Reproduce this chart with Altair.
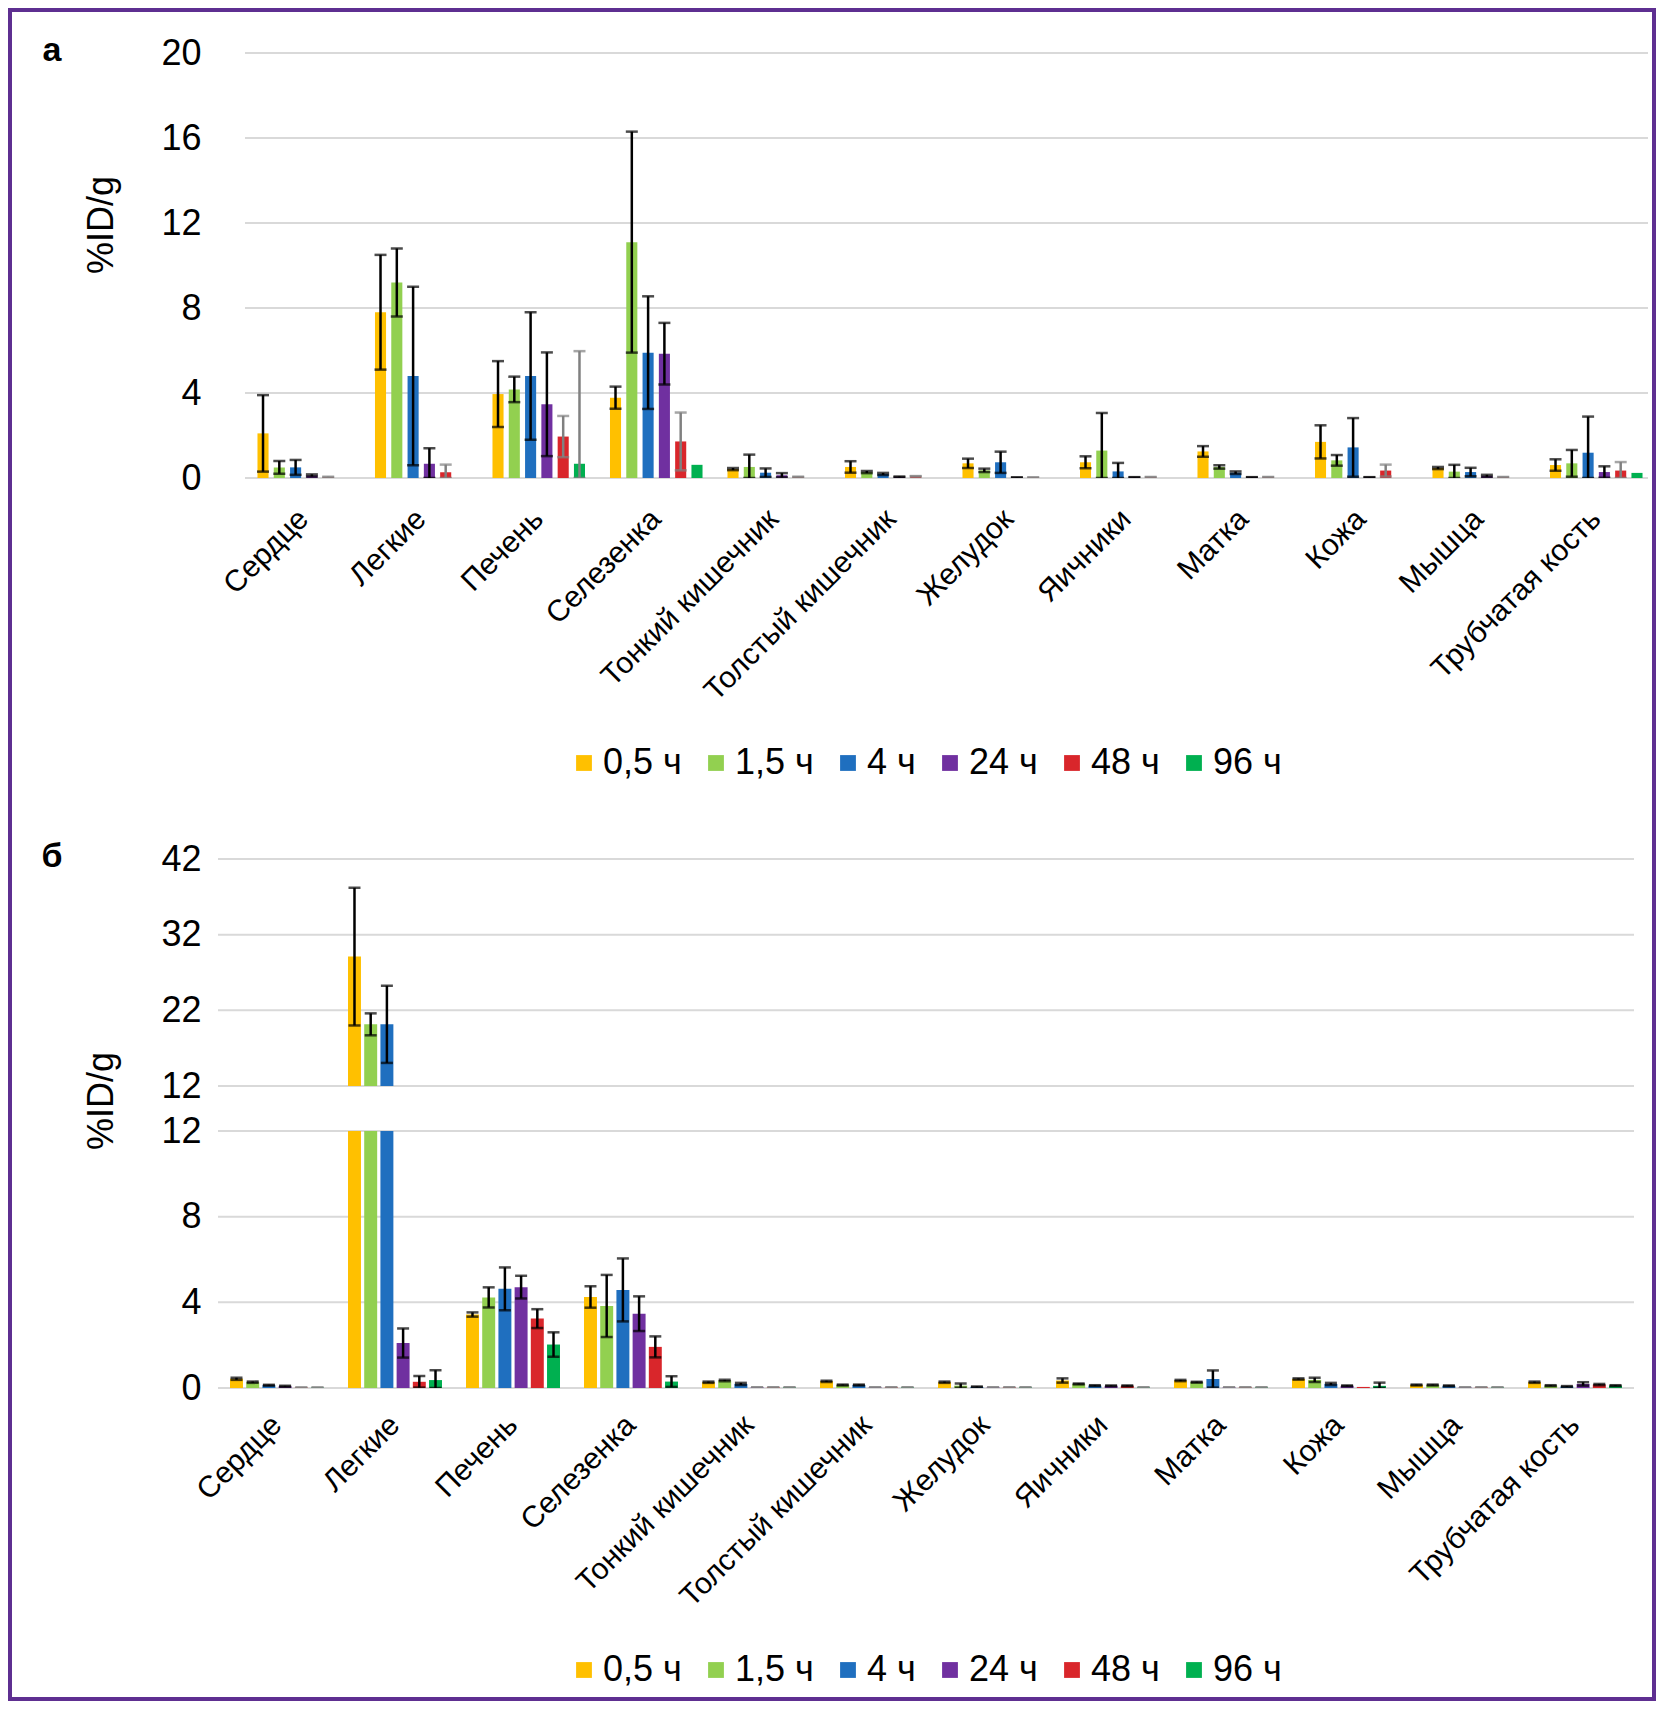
import altair as alt
import pandas as pd

FONT = "Liberation Sans"

organs = ["Сердце", "Легкие", "Печень", "Селезенка", "Тонкий кишечник",
          "Толстый кишечник", "Желудок", "Яичники", "Матка", "Кожа",
          "Мышца", "Трубчатая кость"]
times = ["0,5 ч", "1,5 ч", "4 ч", "24 ч", "48 ч", "96 ч"]
colors = ["#FFC000", "#92D050", "#1F6FBF", "#7030A0", "#D9262B", "#00B050"]

# ---- panel а : mean %ID/g and SD ----
a_05 = [2.1, 7.8, 3.95, 3.78, 0.42, 0.52, 0.69, 0.74, 1.25, 1.7, 0.47, 0.61]
a_05_sd = [1.8, 2.7, 1.55, 0.52, 0.05, 0.27, 0.22, 0.28, 0.25, 0.78, 0.05, 0.27]
a_15 = [0.5, 9.2, 4.17, 11.1, 0.52, 0.28, 0.36, 1.29, 0.52, 0.83, 0.3, 0.69]
a_15_sd = [0.3, 1.6, 0.6, 5.2, 0.58, 0.05, 0.08, 1.77, 0.08, 0.25, 0.32, 0.63]
a_4 = [0.5, 4.8, 4.8, 5.9, 0.25, 0.19, 0.74, 0.31, 0.25, 1.44, 0.28, 1.19]
a_4_sd = [0.35, 4.2, 3.0, 2.65, 0.2, 0.05, 0.5, 0.4, 0.06, 1.38, 0.2, 1.7]
a_24 = [0.12, 0.67, 3.47, 5.85, 0.13, 0.05, 0.02, 0.03, 0.03, 0.03, 0.1, 0.28]
a_24_sd = [0.05, 0.73, 2.44, 1.45, 0.1, 0.02, 0.01, 0.01, 0.01, 0.01, 0.05, 0.27]
a_48 = [0.04, 0.27, 1.95, 1.72, 0.05, 0.08, 0.02, 0.04, 0.04, 0.35, 0.04, 0.35]
a_48_sd = [0.02, 0.36, 0.97, 1.36, 0.01, 0.01, 0.01, 0.01, 0.01, 0.28, 0.01, 0.4]
a_96 = [0.0, 0.0, 0.67, 0.62, 0.0, 0.0, 0.0, 0.0, 0.0, 0.0, 0.0, 0.24]
a_96_sd = [0.0, 0.0, 5.3, 0.0, 0.0, 0.0, 0.0, 0.0, 0.0, 0.0, 0.0, 0.0]

# ---- panel б ----
b_05 = [0.43, 29.1, 3.43, 4.25, 0.27, 0.31, 0.27, 0.35, 0.35, 0.42, 0.14, 0.27]
b_05_sd = [0.05, 9.1, 0.1, 0.5, 0.03, 0.03, 0.03, 0.1, 0.03, 0.03, 0.02, 0.03]
b_15 = [0.27, 20.15, 4.23, 3.83, 0.35, 0.14, 0.11, 0.19, 0.27, 0.38, 0.14, 0.11]
b_15_sd = [0.03, 1.45, 0.47, 1.45, 0.03, 0.02, 0.1, 0.02, 0.02, 0.1, 0.02, 0.02]
b_4 = [0.13, 20.15, 4.63, 4.58, 0.19, 0.14, 0.05, 0.11, 0.42, 0.19, 0.1, 0.07]
b_4_sd = [0.02, 5.1, 1.0, 1.47, 0.05, 0.02, 0.02, 0.02, 0.4, 0.05, 0.02, 0.02]
b_24 = [0.08, 2.1, 4.71, 3.47, 0.03, 0.03, 0.03, 0.1, 0.03, 0.1, 0.03, 0.19]
b_24_sd = [0.02, 0.68, 0.53, 0.81, 0.0, 0.0, 0.0, 0.02, 0.0, 0.02, 0.0, 0.08]
b_48 = [0.02, 0.29, 3.24, 1.92, 0.03, 0.03, 0.03, 0.1, 0.03, 0.05, 0.03, 0.16]
b_48_sd = [0.0, 0.27, 0.44, 0.49, 0.0, 0.0, 0.0, 0.02, 0.0, 0.0, 0.0, 0.03]
b_96 = [0.02, 0.37, 2.03, 0.3, 0.03, 0.03, 0.03, 0.03, 0.03, 0.1, 0.03, 0.11]
b_96_sd = [0.0, 0.46, 0.57, 0.25, 0.0, 0.0, 0.0, 0.0, 0.0, 0.15, 0.0, 0.02]

a_ticks = [0, 4, 8, 12, 16, 20]
b_ticks_hi = [12, 22, 32, 42]
b_ticks_lo = [0, 4, 8, 12]


def frame(means, sds):
    rows = []
    for t, ml, sl in zip(times, means, sds):
        for o, m, s in zip(organs, ml, sl):
            rows.append({"organ": o, "time": t, "v": m, "sd": s,
                         "lo": max(m - s, 0.0), "hi": m + s})
    return pd.DataFrame(rows)


dfa = frame([a_05, a_15, a_4, a_24, a_48, a_96],
            [a_05_sd, a_15_sd, a_4_sd, a_24_sd, a_48_sd, a_96_sd])
dfb = frame([b_05, b_15, b_4, b_24, b_48, b_96],
            [b_05_sd, b_15_sd, b_4_sd, b_24_sd, b_48_sd, b_96_sd])


def panel(df, domain, ticks, width, height, xrange, pad_inner, off_pad,
          show_labels, label_pad, legend_y, err_filter, gray_test, grid_x,
          extras):
    xaxis = alt.Axis(title=None, labels=show_labels, labelAngle=-45,
                     labelAlign="right", labelBaseline="middle",
                     labelFontSize=30, labelFont=FONT, labelColor="black",
                     labelPadding=label_pad, labelLimit=600, ticks=False,
                     domain=False, grid=False, labelOverlap=False)
    xscale = alt.Scale(domain=organs, paddingInner=pad_inner,
                       paddingOuter=pad_inner / 2, range=xrange)
    xenc = alt.X("organ:N", sort=organs, scale=xscale, axis=xaxis)
    xoff = alt.XOffset("time:N", sort=times,
                       scale=alt.Scale(domain=times, paddingInner=off_pad,
                                       paddingOuter=off_pad / 2))
    yaxis = alt.Axis(title=None, values=ticks, grid=False, ticks=False,
                     domain=False, labelFontSize=36, labelFont=FONT,
                     labelColor="black", labelPadding=17)
    yscale = alt.Scale(domain=domain, nice=False, zero=False)

    if legend_y is None:
        leg = None
    else:
        leg = alt.Legend(orient="none", legendX=348, legendY=legend_y,
                         direction="horizontal", title=None,
                         symbolType="square", symbolSize=250,
                         symbolStrokeWidth=0, labelFontSize=36,
                         labelFont=FONT, labelColor="black",
                         columnPadding=16, labelOffset=1)
    color = alt.Color("time:N", sort=times,
                      scale=alt.Scale(domain=times, range=colors), legend=leg)

    grid = alt.Chart(pd.DataFrame({"g": ticks})).mark_rule(
        color="#D9D9D9", strokeWidth=2).encode(
        y=alt.Y("g:Q", scale=yscale, axis=yaxis),
        x=alt.value(grid_x[0]), x2=alt.value(grid_x[1]))

    bars = alt.Chart(df).mark_bar(clip=True).encode(
        x=xenc, xOffset=xoff,
        y=alt.Y("v:Q", scale=yscale, axis=yaxis),
        color=color)

    ecol = alt.condition(gray_test, alt.value("#808080"), alt.value("black"))

    base_err = alt.Chart(df).transform_filter(err_filter)
    rules = base_err.mark_rule(strokeWidth=2.5, clip=True).encode(
        x=xenc, xOffset=xoff,
        y=alt.Y("lo:Q", scale=yscale, axis=yaxis), y2="hi:Q", color=ecol)
    cap_hi = base_err.mark_tick(orient="horizontal", size=12, thickness=2.5,
                                clip=True).encode(
        x=xenc, xOffset=xoff, y=alt.Y("hi:Q", scale=yscale, axis=yaxis),
        color=ecol)
    cap_lo = base_err.mark_tick(orient="horizontal", size=12, thickness=2.5,
                                clip=True).encode(
        x=xenc, xOffset=xoff, y=alt.Y("lo:Q", scale=yscale, axis=yaxis),
        color=ecol)

    layers = [grid, bars, rules, cap_hi, cap_lo] + extras
    return alt.layer(*layers).properties(width=width, height=height)


def label(text, x, y, size, bold=False, angle=0):
    return alt.Chart(pd.DataFrame({"t": [text]})).mark_text(
        font=FONT, fontSize=size, fontWeight="bold" if bold else "normal",
        angle=angle, align="center", baseline="middle", color="black").encode(
        x=alt.value(x), y=alt.value(y), text="t:N")


border = alt.Chart(pd.DataFrame({"t": [0]})).mark_rect(
    filled=False, stroke="#5E2F91", strokeWidth=4).encode(
    x=alt.value(-208), x2=alt.value(1436), y=alt.value(-43), y2=alt.value(1646))

top_gray = "datum.time == '48 ч' || datum.time == '96 ч'"
bot_gray = "datum.v <= 0.03 && datum.sd == 0"

top = panel(dfa, [0, 20], a_ticks, 1437, 425, [27, 1437], 0.168, 0.32,
            True, 36, 692, "datum.sd > 0", top_gray, [27, 1430],
            [label("а", -166, -2, 34, bold=True),
             label("%ID/g", -116, 172, 36, angle=270), border])

b_hi = panel(dfb, [12, 42], b_ticks_hi, 1416, 227, [0, 1416], 0.176, 0.2,
             False, 10, None, "datum.sd > 0", bot_gray, [0, 1416],
             [label("б", -166, -2, 34, bold=True)])

b_lo = panel(dfb, [0, 12], b_ticks_lo, 1416, 257, [0, 1416], 0.176, 0.2,
             True, 32, 521, "datum.sd > 0 || datum.v <= 0.03", bot_gray,
             [0, 1416],
             [label("%ID/g", -116, -30, 36, angle=270)])

bottom = alt.vconcat(b_hi, b_lo, spacing=45, bounds="flush").resolve_scale(
    x="independent", y="independent", color="independent",
    xOffset="independent")

chart = alt.vconcat(top, bottom, spacing=381, bounds="flush").resolve_scale(
    x="independent", y="independent", color="independent",
    xOffset="independent").properties(
    padding=0, background="white").configure(font=FONT).configure_view(
    stroke=None, strokeWidth=0)

chart.save("out.html", embed_options={"renderer": "svg", "actions": False})
